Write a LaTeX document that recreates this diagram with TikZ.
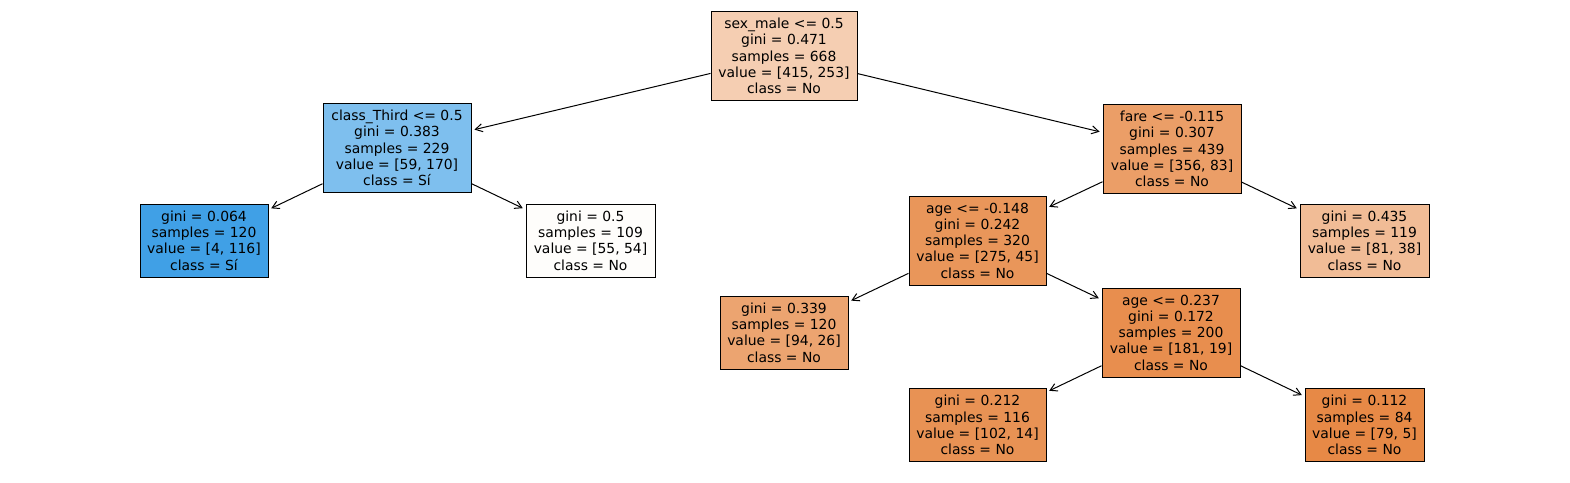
\documentclass[tikz,border=0pt]{standalone}
\usepackage{fontspec}
\setmainfont{DejaVu Sans}
\usetikzlibrary{arrows.meta,positioning}

\definecolor{nroot}{RGB}{245,206,178}
\definecolor{nthird}{RGB}{126,191,238}
\definecolor{nsia}{RGB}{64,160,230}
\definecolor{nnoa}{RGB}{254,253,251}
\definecolor{nfare}{RGB}{235,158,103}
\definecolor{nagea}{RGB}{233,150,90}
\definecolor{nnob}{RGB}{241,188,150}
\definecolor{nnoc}{RGB}{236,164,112}
\definecolor{nageb}{RGB}{232,142,78}
\definecolor{nnod}{RGB}{232,146,84}
\definecolor{nnoe}{RGB}{231,137,70}

\begin{document}
\begin{tikzpicture}[x=1pt,y=-1pt,
    split/.style={draw,line width=1pt,align=center,inner sep=2pt,
        minimum height=89pt,font=\fontsize{13.9}{16.25}\selectfont},
    leaf/.style={split,minimum height=73pt},
    edge/.style={-{Straight Barb[length=7pt,width=8pt]},line width=1pt,shorten >=3pt}]
            \useasboundingbox (0,0) rectangle (1570,482);
            \node[split,fill=nroot,minimum width=146pt]
            (root) at (784,56) {sex\_male <= 0.5\\gini = 0.471\\samples = 668\\value = [415, 253]\\class = No};
            \node[split,fill=nthird,minimum width=148pt]
            (third) at (397,148) {class\_Third <= 0.5\\gini = 0.383\\samples = 229\\value = [59, 170]\\class = Sí};
            \node[split,fill=nfare,minimum width=138pt]
            (fare) at (1172,149) {fare <= -0.115\\gini = 0.307\\samples = 439\\value = [356, 83]\\class = No};
            \node[leaf,fill=nsia,minimum width=128pt]
            (lsi) at (204,240.5) {gini = 0.064\\samples = 120\\value = [4, 116]\\class = Sí};
            \node[leaf,fill=nnoa,minimum width=129pt]
            (lhalf) at (590.5,240.5) {gini = 0.5\\samples = 109\\value = [55, 54]\\class = No};
            \node[split,fill=nagea,minimum width=137pt]
            (agea) at (977.5,240.5) {age <= -0.148\\gini = 0.242\\samples = 320\\value = [275, 45]\\class = No};
            \node[leaf,fill=nnob,minimum width=129pt]
            (lfare) at (1364.5,240.5) {gini = 0.435\\samples = 119\\value = [81, 38]\\class = No};
            \node[leaf,fill=nnoc,minimum width=128pt]
            (lagea) at (784,332.5) {gini = 0.339\\samples = 120\\value = [94, 26]\\class = No};
            \node[split,fill=nageb,minimum width=138pt]
            (ageb) at (1171,332.5) {age <= 0.237\\gini = 0.172\\samples = 200\\value = [181, 19]\\class = No};
            \node[leaf,fill=nnod,minimum width=137pt]
            (lageb) at (977.5,425) {gini = 0.212\\samples = 116\\value = [102, 14]\\class = No};
            \node[leaf,fill=nnoe,minimum width=119pt]
            (lagec) at (1364.5,425) {gini = 0.112\\samples = 84\\value = [79, 5]\\class = No};
            \draw[edge] (root) -- (third);
            \draw[edge] (root) -- (fare);
            \draw[edge] (third) -- (lsi);
            \draw[edge] (third) -- (lhalf);
            \draw[edge] (fare) -- (agea);
            \draw[edge] (fare) -- (lfare);
            \draw[edge] (agea) -- (lagea);
            \draw[edge] (agea) -- (ageb);
            \draw[edge] (ageb) -- (lageb);
            \draw[edge] (ageb) -- (lagec);
        \end{tikzpicture}
\end{document}
